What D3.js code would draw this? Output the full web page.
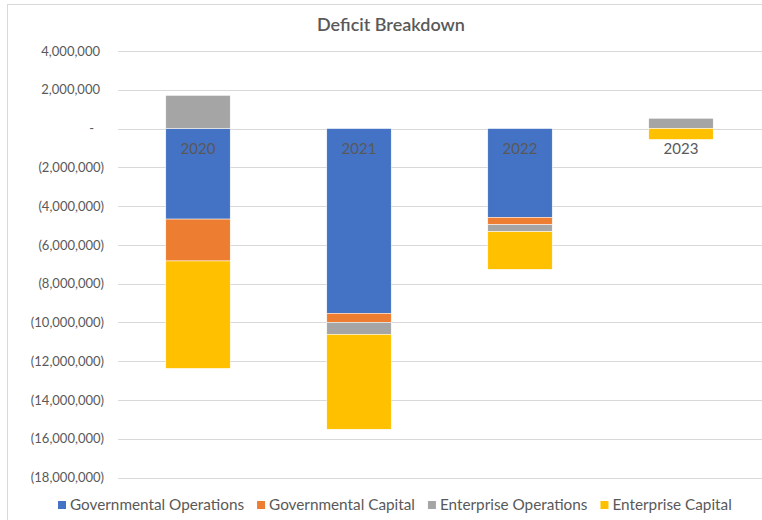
<!DOCTYPE html>
<html>
<head>
<meta charset="utf-8">
<script src="https://d3js.org/d3.v7.min.js"></script>
<style>
	body { margin: 0; background: #fff; }
	text { font-family: Lato, "Open Sans", sans-serif; fill: #595959; }
</style>
</head>
<body>
<svg id="deficit-svg" width="762" height="520"></svg>
<script>
// chart values
var years = ["2020", "2021", "2022", "2023"];
var seriesNames = ["Governmental Operations", "Governmental Capital", "Enterprise Operations", "Enterprise Capital"];
var seriesColors = ["#4472C4", "#ED7D31", "#A5A5A5", "#FFC000"];
var govOperations = [-4670000, -9530000, -4580000, 0];
var govCapital = [-2160000, -470000, -380000, 0];
var entOperations = [1710000, -620000, -360000, 530000];
var entCapital = [-5540000, -4890000, -1940000, -560000];
var yTicks = [4000000, 2000000, 0, -2000000, -4000000, -6000000, -8000000, -10000000, -12000000, -14000000, -16000000, -18000000];

var svg = d3.select("#deficit-svg");

// table for the stack layout
var rows = years.map(function(y, i) {
	return {
		year: y,
		"Governmental Operations": govOperations[i],
		"Governmental Capital": govCapital[i],
		"Enterprise Operations": entOperations[i],
		"Enterprise Capital": entCapital[i]
	};
});

var x = d3.scaleBand()
	.domain(years)
	.range([117.5, 761.5])
	.paddingInner(0.6)
	.paddingOuter(0.3);

var y = d3.scaleLinear()
	.domain([-18000000, 4000000])
	.range([477.5, 51]);

var color = d3.scaleOrdinal()
	.domain(seriesNames)
	.range(seriesColors);

// outer frame of the chart area
svg.append("rect")
	.attr("x", 7.5)
	.attr("y", 4.5)
	.attr("width", 800)
	.attr("height", 540)
	.style("fill", "none")
	.style("stroke", "#d9d9d9");

// title
svg.append("text")
	.attr("x", 391)
	.attr("y", 31)
	.attr("text-anchor", "middle")
	.style("font-size", "18px")
	.style("font-weight", "600")
	.text("Deficit Breakdown");

// gridlines
svg.append("g")
	.selectAll("line")
	.data(yTicks)
	.enter().append("line")
	.attr("x1", 118)
	.attr("x2", 762)
	.attr("y1", function(d) { return Math.round(y(d)) + 0.5; })
	.attr("y2", function(d) { return Math.round(y(d)) + 0.5; })
	.style("stroke", "#d9d9d9")
	.style("stroke-width", 1);

// y axis labels, accounting style: (negatives), "-" for zero
var fmt = d3.format(",");
var yAxis = d3.axisLeft(y)
	.tickValues(yTicks)
	.tickSize(0)
	.tickPadding(0)
	.tickFormat(function(d) {
		if (d === 0) return "-";
		if (d < 0) return "(" + fmt(-d) + ")";
		return fmt(d);
	});

var gy = svg.append("g")
	.attr("transform", "translate(104,0)")
	.call(yAxis);
gy.select(".domain").remove();
gy.selectAll("text")
	.style("font-size", "13px")
	.style("fill", "#595959")
	.attr("dx", function(d) { return d === 0 ? -10 : (d > 0 ? -4 : 0); });

// stacked bars
var stack = d3.stack()
	.keys(seriesNames)
	.offset(d3.stackOffsetDiverging);

var layers = svg.append("g")
	.selectAll("g")
	.data(stack(rows))
	.enter().append("g")
	.style("fill", function(d) { return color(d.key); });

layers.selectAll("rect")
	.data(function(d) { return d; })
	.enter().append("rect")
	.attr("x", function(d) { return x(d.data.year); })
	.attr("width", x.bandwidth())
	.attr("y", function(d) { return y(d[1]); })
	.attr("height", function(d) { return Math.abs(y(d[0]) - y(d[1])); })
	.style("stroke", "#fff")
	.style("stroke-width", 0.5);

// category labels sit just below the zero line
svg.append("g")
	.selectAll("text")
	.data(years)
	.enter().append("text")
	.attr("x", function(d) { return x(d) + x.bandwidth() / 2; })
	.attr("y", y(0) + 25)
	.attr("text-anchor", "middle")
	.style("font-size", "15px")
	.text(function(d) { return d; });

// legend
var legend = svg.append("g")
	.attr("transform", "translate(0,505)");

var lx = 58;
seriesNames.forEach(function(name, i) {
	var item = legend.append("g").attr("transform", "translate(" + lx + ",0)");
	item.append("rect")
		.attr("x", 0)
		.attr("y", -4)
		.attr("width", 8)
		.attr("height", 8)
		.style("fill", seriesColors[i]);
	var t = item.append("text")
		.attr("x", 12)
		.attr("y", 5)
		.style("font-size", "15.3px")
		.text(name);
	lx += 12 + t.node().getComputedTextLength() + 13;
});
</script>
</body>
</html>
